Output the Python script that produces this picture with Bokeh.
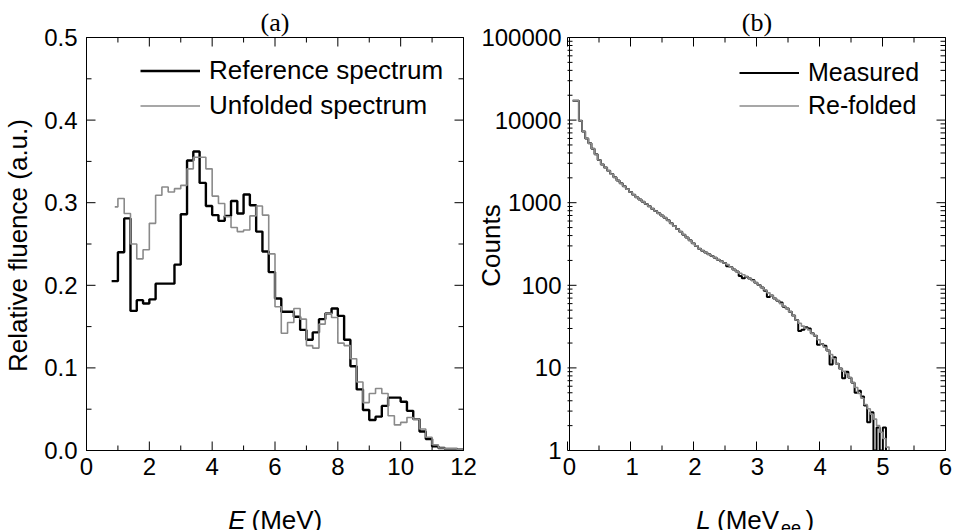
import math
from bokeh.plotting import figure
from bokeh.layouts import row, column
from bokeh.models import (Label, Legend, LegendItem, FixedTicker, PrintfTickFormatter)
from bokeh.embed import file_html
from bokeh.resources import INLINE

# ---------------- data: panel (a) ----------------
E_start = 0.8          # first bin edge (MeV)
E_width = 0.2          # bin width (MeV)
E_unf_first = 0.9      # unfolded curve starts here
ref_spectrum = [0.205, 0.240, 0.281, 0.169, 0.182, 0.178, 0.183, 0.202, 0.202, 0.202,
                0.225, 0.286, 0.351, 0.362, 0.324, 0.296, 0.285, 0.278, 0.284, 0.302,
                0.287, 0.310, 0.297, 0.265, 0.241, 0.216, 0.184, 0.168, 0.168, 0.162,
                0.146, 0.134, 0.143, 0.159, 0.166, 0.172, 0.163, 0.134, 0.102, 0.074,
                0.049, 0.037, 0.041, 0.054, 0.064, 0.064, 0.059, 0.048, 0.038, 0.023,
                0.014, 0.005, 0.003, 0.002, 0.002, 0.001]
unf_spectrum = [0.295, 0.305, 0.287, 0.250, 0.232, 0.243, 0.275, 0.309, 0.319, 0.313,
                0.317, 0.321, 0.341, 0.355, 0.355, 0.341, 0.308, 0.299, 0.283, 0.270,
                0.265, 0.267, 0.284, 0.296, 0.285, 0.238, 0.174, 0.142, 0.155, 0.172,
                0.159, 0.127, 0.124, 0.153, 0.166, 0.161, 0.130, 0.127, 0.111, 0.083,
                0.058, 0.069, 0.075, 0.069, 0.042, 0.031, 0.034, 0.040, 0.038, 0.026,
                0.016, 0.007, 0.003, 0.002, 0.002, 0.001]
a_xrange = (0, 12)
a_yrange = (0, 0.5)
a_xticks = [0, 2, 4, 6, 8, 10, 12]
a_xminor = [1, 3, 5, 7, 9, 11]
a_yticks = [0.0, 0.1, 0.2, 0.3, 0.4, 0.5]
a_yminor = [0.05, 0.15, 0.25, 0.35, 0.45]

# ---------------- data: panel (b) ----------------
L_start = 0.05
L_width = 0.05
measured = [17200, 17200, 9840, 7300, 6000, 5250, 4490, 3850, 3290, 2910,
            2660, 2430, 2220, 2030, 1855, 1714, 1582, 1462, 1349, 1245,
            1167, 1094, 1026, 963, 903, 847, 794, 745, 698, 656,
            612, 565, 521, 481, 444, 409, 378, 350, 324, 300,
            277, 262, 249, 238, 226, 216, 204, 195, 186, 170,
            166, 155, 147, 130, 122, 127, 121, 116, 107, 101,
            94, 86, 72, 75, 69, 65, 62, 55, 52.5, 48,
            43, 38, 28, 29, 31, 30, 26.3, 24.5, 19, 19.5,
            18.5, 16.2, 11, 13.5, 11.2, 9.8, 7.5, 9.0, 7.6, 6.6,
            5.0, 5.3, 4.5, 3.5, 2.2, 2.9, 1, 1.9, 1, 1.9]
refolded = [17200, 17200, 9840, 7300, 6000, 5250, 4490, 3850, 3290, 2910,
            2660, 2430, 2220, 2030, 1855, 1714, 1582, 1462, 1349, 1245,
            1167, 1094, 1026, 963, 903, 847, 794, 745, 698, 656,
            612, 565, 521, 481, 444, 409, 378, 350, 324, 300,
            277, 262, 249, 238, 226, 216, 204, 195, 186, 178,
            166, 155, 147, 140, 134, 127, 121, 114, 107, 101,
            94, 88, 81, 75, 69, 65, 60, 56, 52.5, 48,
            43, 38, 34.7, 32, 30.2, 28.8, 26.3, 24.5, 21.9, 19.5,
            17.8, 16.2, 14.5, 12.9, 11.2, 9.8, 9.1, 8.5, 7.6, 6.6,
            5.8, 4.9, 4.3, 3.6, 3.2, 2.75, 2.4, 2.0, 1.66, 1.4,
            1.1]
b_xrange = (0, 6)
b_yrange = (1, 100000)
b_xticks = [0, 1, 2, 3, 4, 5, 6]
b_xminor = [0.5, 1.5, 2.5, 3.5, 4.5, 5.5]
b_yticks = [1, 10, 100, 1000, 10000, 100000]
b_yminor = [m * d for d in [1, 10, 100, 1000, 10000] for m in range(2, 10)]

SANS = "Liberation Sans"
SERIF = "Liberation Serif"
TICK_FS = "24px"
LAB_FS = "26px"
LEG_FS = "26px"
GREY = "#8a8a8a"
MAJ, MIN = 9, 5          # tick lengths (px)

# page geometry (px): both frames share top / bottom
W, H = 957, 530
A_LEFT, A_W, A_FIG_W = 86, 377, 478
B_LEFT_BORDER, B_W = 89, 378
FR_TOP, FR_H = 37, 413
FR_BOTTOM = H - FR_TOP - FR_H          # distance of frame bottom from page bottom


def edges(start, width, n):
    return [round(start + width * i, 6) for i in range(n + 1)]


def style_axis(ax, ticks, standoff):
    ax.ticker = FixedTicker(ticks=ticks)
    ax.axis_line_color = "black"
    ax.major_tick_in = 0
    ax.major_tick_out = 0
    ax.minor_tick_in = 0
    ax.minor_tick_out = 0
    ax.axis_label = None
    ax.major_label_text_font = SANS
    ax.major_label_text_font_size = TICK_FS
    ax.major_label_text_color = "black"
    ax.major_label_standoff = standoff


def base_fig(width, left, right, x_range, y_range, y_type="linear"):
    p = figure(width=width, height=H, x_range=x_range, y_range=y_range,
               y_axis_type=y_type, output_backend="svg", toolbar_location=None,
               min_border_left=left, min_border_right=right,
               min_border_top=FR_TOP, min_border_bottom=H - FR_TOP - FR_H)
    p.grid.visible = False
    p.outline_line_color = "black"
    p.outline_line_width = 1
    p.background_fill_color = "white"
    p.border_fill_color = "white"
    return p


# ---------------- panel (a) ----------------
pa = base_fig(A_FIG_W, A_LEFT, A_FIG_W - A_LEFT - A_W, a_xrange, a_yrange)
style_axis(pa.xaxis[0], a_xticks, 7)
style_axis(pa.yaxis[0], a_yticks, 9)
pa.yaxis[0].formatter = PrintfTickFormatter(format="%.1f")

ea = edges(E_start, E_width, len(ref_spectrum))
r_ref = pa.step(x=ea, y=ref_spectrum + [0], mode="after", line_color="black", line_width=2.4)
eu = [E_unf_first] + ea[1:]
r_unf = pa.step(x=eu, y=unf_spectrum + [0], mode="after", line_color=GREY, line_width=1.6)

leg_a = Legend(items=[LegendItem(label="Reference spectrum", renderers=[r_ref]),
                      LegendItem(label="Unfolded spectrum", renderers=[r_unf])],
               location=(54, 329), glyph_width=60, glyph_height=29, label_height=29,
               label_standoff=9, spacing=4, padding=0, margin=0,
               border_line_alpha=0, background_fill_alpha=0,
               label_text_font=SANS, label_text_font_size=LEG_FS,
               label_text_color="black")
pa.add_layout(leg_a)

# ---------------- panel (b) ----------------
B_FIG_W = W - A_FIG_W
pb = base_fig(B_FIG_W, B_LEFT_BORDER, B_FIG_W - B_LEFT_BORDER - B_W, b_xrange, b_yrange,
              y_type="log")
style_axis(pb.xaxis[0], b_xticks, 7)
style_axis(pb.yaxis[0], b_yticks, 8)
pb.yaxis[0].formatter = PrintfTickFormatter(format="%d")

eb_m = edges(L_start, L_width, len(measured))
eb_r = edges(L_start, L_width, len(refolded))
r_meas = pb.step(x=eb_m, y=measured + [1], mode="after", line_color="black", line_width=2.0)
r_refo = pb.step(x=eb_r, y=refolded + [1], mode="after", line_color=GREY, line_width=1.6)

leg_b = Legend(items=[LegendItem(label="Measured", renderers=[r_meas]),
                      LegendItem(label="Re-folded", renderers=[r_refo])],
               location=(170, 330), glyph_width=60, glyph_height=29, label_height=29,
               label_standoff=9, spacing=4, padding=0, margin=0,
               border_line_alpha=0, background_fill_alpha=0,
               label_text_font=SANS, label_text_font_size="25px",
               label_text_color="black")
pb.add_layout(leg_b)

# ---------------- overlay: outer texts and inward tick marks ----------------
ov = figure(width=W, height=H, x_range=(0, W), y_range=(0, H),
            x_axis_type=None, y_axis_type=None, output_backend="svg",
            toolbar_location=None, min_border=0)
ov.grid.visible = False
ov.outline_line_color = None
ov.background_fill_alpha = 0
ov.border_fill_alpha = 0
ov.margin = (-H, 0, 0, 0)


def lin_map(v, lo, hi, p0, size):
    return p0 + (v - lo) / (hi - lo) * size


def log_map(v, lo, hi, p0, size):
    return p0 + (math.log10(v) - math.log10(lo)) / (math.log10(hi) - math.log10(lo)) * size


def frame_ticks(left, fw, xr, yr, xt, xm, yt, ym, ymap):
    x0s, y0s, x1s, y1s = [], [], [], []
    bottom, top, right = FR_BOTTOM, FR_BOTTOM + FR_H, left + fw
    for ticks, ln in ((xt, MAJ), (xm, MIN)):
        for t in ticks:
            sx = lin_map(t, xr[0], xr[1], left, fw)
            x0s += [sx, sx]; x1s += [sx, sx]
            y0s += [bottom, top]; y1s += [bottom + ln, top - ln]
    for ticks, ln in ((yt, MAJ), (ym, MIN)):
        for t in ticks:
            sy = ymap(t, yr[0], yr[1], bottom, FR_H)
            y0s += [sy, sy]; y1s += [sy, sy]
            x0s += [left, right]; x1s += [left + ln, right - ln]
    ov.segment(x0=x0s, y0=y0s, x1=x1s, y1=y1s, line_color="black", line_width=1)


frame_ticks(A_LEFT, A_W, a_xrange, a_yrange, a_xticks, a_xminor, a_yticks, a_yminor, lin_map)
frame_ticks(A_FIG_W + B_LEFT_BORDER, B_W, b_xrange, b_yrange, b_xticks, b_xminor,
            b_yticks, b_yminor, log_map)


def lab(x, y, text, size=LAB_FS, font=SANS, style="normal", align="left", angle=0,
        baseline="alphabetic"):
    ov.add_layout(Label(x=x, y=y, x_units="screen", y_units="screen", text=text,
                        text_font=font, text_font_size=size, text_font_style=style,
                        text_align=align, angle=angle, text_baseline=baseline,
                        text_color="black"))


lab(274.5, 508, "(a)", size="26px", font=SERIF, align="center")
lab(756.5, 508, "(b)", size="26px", font=SERIF, align="center")
lab(17.5, 285, "Relative fluence (a.u.)", align="center", angle=math.pi / 2)
lab(490, 285, "Counts", align="center", angle=math.pi / 2)
lab(227.7, 11, "E", style="italic")
lab(251, 11, "(MeV)")
lab(695.7, 11, "L", style="italic")
lab(716.5, 11, "(MeV")
lab(780.5, 3, "ee", size="18px")
lab(805, 11, ")")

layout = column(row(pa, pb, spacing=0), ov, spacing=0)
open("out.html", "w").write(file_html(layout, INLINE))
